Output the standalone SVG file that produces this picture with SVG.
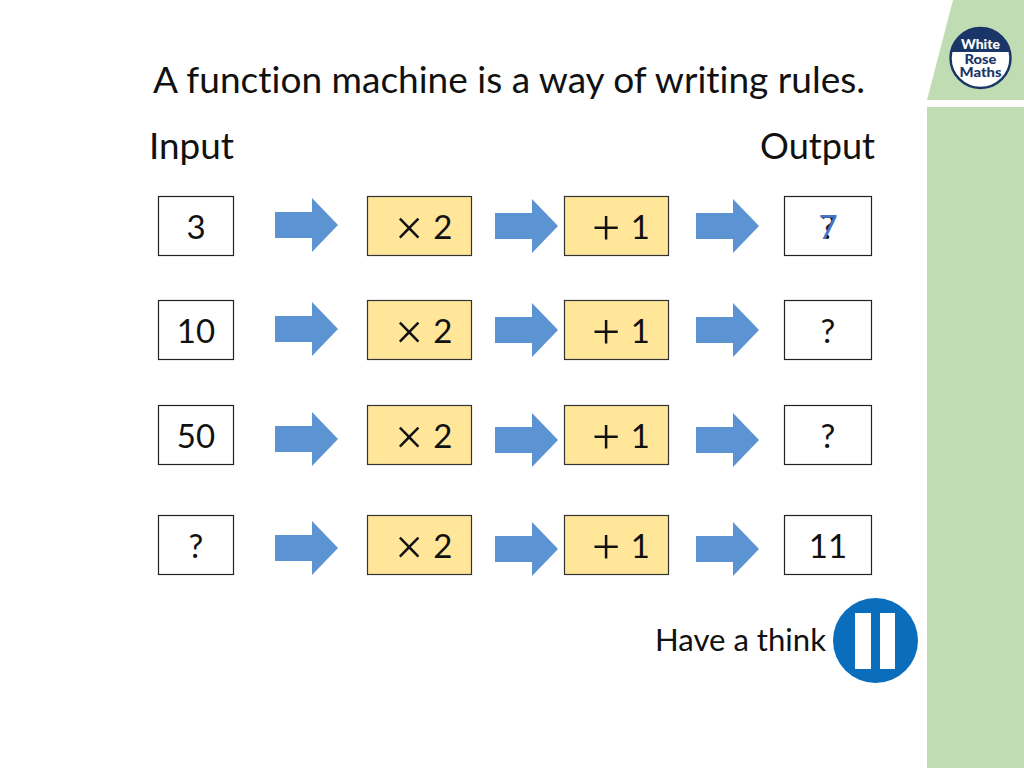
<svg xmlns="http://www.w3.org/2000/svg" xmlns:xlink="http://www.w3.org/1999/xlink" width="1024" height="768" viewBox="0 0 1024 768">
<style>
text{font-family:"Lato","Open Sans","Liberation Sans",sans-serif;fill:#111;font-variant-ligatures:none}
.t{font-size:36px}
.n{font-size:33px;text-anchor:middle}
.o{font-size:33px}
.s{font-family:"Liberation Serif",serif;font-size:50px}
.box{fill:#fff;stroke:#222;stroke-width:1.2}
.op{fill:#ffe699;stroke:#333;stroke-width:1.2}
.arrow{fill:#5b93d3}
.logo{font-weight:900;text-anchor:middle}
</style>
<defs>
<path id="a" class="arrow" d="M0 -13H37V-27L63 0L37 27V13H0Z"/>
</defs>
<rect width="1024" height="768" fill="#fff"/>
<g id="sidebar">
<path d="M927 100L953 0H1024V100Z" fill="#c0dcb3"/>
<rect x="927" y="107" width="97" height="661" fill="#c0dcb3"/>
</g>
<g id="logo">
<circle cx="980.500" cy="58" r="30" fill="#fff" stroke="#1a3668" stroke-width="2.500"/>
<path d="M951 52A30 30 0 0 1 1010 52Z" fill="#1a3668"/>
<text class="logo" x="980.500" y="48.500" font-size="14" textLength="39" lengthAdjust="spacingAndGlyphs" style="fill:#fff">White</text>
<text class="logo" x="980.500" y="63.500" font-size="12.500" textLength="32" lengthAdjust="spacingAndGlyphs" style="fill:#1a3668">Rose</text>
<text class="logo" x="980.500" y="77" font-size="12.500" textLength="42" lengthAdjust="spacingAndGlyphs" style="fill:#1a3668">Maths</text>
</g>
<g id="title">
<text class="t" x="153" y="93" textLength="712" lengthAdjust="spacingAndGlyphs">A function machine is a way of writing rules.</text>
<text class="t" x="149" y="159" textLength="85" lengthAdjust="spacingAndGlyphs">Input</text>
<text class="t" x="760" y="159" textLength="115" lengthAdjust="spacingAndGlyphs">Output</text>
</g>
<g id="connectors">
<use xlink:href="#a" href="#a" x="275" y="225"/><use xlink:href="#a" href="#a" x="495" y="226"/><use xlink:href="#a" href="#a" x="696" y="226"/>
<use xlink:href="#a" href="#a" x="275" y="329"/><use xlink:href="#a" href="#a" x="495" y="330"/><use xlink:href="#a" href="#a" x="696" y="330"/>
<use xlink:href="#a" href="#a" x="275" y="439"/><use xlink:href="#a" href="#a" x="495" y="440"/><use xlink:href="#a" href="#a" x="696" y="440"/>
<use xlink:href="#a" href="#a" x="275" y="548"/><use xlink:href="#a" href="#a" x="495" y="549"/><use xlink:href="#a" href="#a" x="696" y="549"/>
</g>
<g id="in1"><rect class="box" x="158.500" y="196.500" width="75" height="59"/><text class="n" x="196" y="239">3</text></g>
<g id="op1a"><rect class="op" x="367.500" y="196.500" width="104" height="59"/><text class="o" x="395" y="239"><tspan class="s" dy="6">×</tspan><tspan dy="-6" dx="1.500"> 2</tspan></text></g>
<g id="op1b"><rect class="op" x="564.500" y="196.500" width="104" height="59"/><text class="o" x="592" y="239"><tspan class="s" dy="6">+</tspan><tspan dy="-6" dx="2"> 1</tspan></text></g>
<g id="out1"><rect class="box" x="784.500" y="196.500" width="87" height="59"/><text class="n" x="828" y="239">?</text><text class="n" x="828" y="239" style="fill:#4472c4">7</text></g>
<g id="in2"><rect class="box" x="158.500" y="300.500" width="75" height="59"/><text class="n" x="196" y="343">10</text></g>
<g id="op2a"><rect class="op" x="367.500" y="300.500" width="104" height="59"/><text class="o" x="395" y="343"><tspan class="s" dy="6">×</tspan><tspan dy="-6" dx="1.500"> 2</tspan></text></g>
<g id="op2b"><rect class="op" x="564.500" y="300.500" width="104" height="59"/><text class="o" x="592" y="343"><tspan class="s" dy="6">+</tspan><tspan dy="-6" dx="2"> 1</tspan></text></g>
<g id="out2"><rect class="box" x="784.500" y="300.500" width="87" height="59"/><text class="n" x="828" y="343">?</text></g>
<g id="in3"><rect class="box" x="158.500" y="405.500" width="75" height="59"/><text class="n" x="196" y="448">50</text></g>
<g id="op3a"><rect class="op" x="367.500" y="405.500" width="104" height="59"/><text class="o" x="395" y="448"><tspan class="s" dy="6">×</tspan><tspan dy="-6" dx="1.500"> 2</tspan></text></g>
<g id="op3b"><rect class="op" x="564.500" y="405.500" width="104" height="59"/><text class="o" x="592" y="448"><tspan class="s" dy="6">+</tspan><tspan dy="-6" dx="2"> 1</tspan></text></g>
<g id="out3"><rect class="box" x="784.500" y="405.500" width="87" height="59"/><text class="n" x="828" y="448">?</text></g>
<g id="in4"><rect class="box" x="158.500" y="515.500" width="75" height="59"/><text class="n" x="196" y="558">?</text></g>
<g id="op4a"><rect class="op" x="367.500" y="515.500" width="104" height="59"/><text class="o" x="395" y="558"><tspan class="s" dy="6">×</tspan><tspan dy="-6" dx="1.500"> 2</tspan></text></g>
<g id="op4b"><rect class="op" x="564.500" y="515.500" width="104" height="59"/><text class="o" x="592" y="558"><tspan class="s" dy="6">+</tspan><tspan dy="-6" dx="2"> 1</tspan></text></g>
<g id="out4"><rect class="box" x="784.500" y="515.500" width="87" height="59"/><text class="n" x="828" y="558">11</text></g>
<g id="pause">
<text x="655" y="651" font-size="30" textLength="171" lengthAdjust="spacingAndGlyphs">Have a think</text>
<circle cx="875.500" cy="640.500" r="42.500" fill="#0a6ebd"/>
<rect x="855" y="613" width="16" height="56" fill="#fff"/>
<rect x="880" y="613" width="15" height="56" fill="#fff"/>
</g>
</svg>
